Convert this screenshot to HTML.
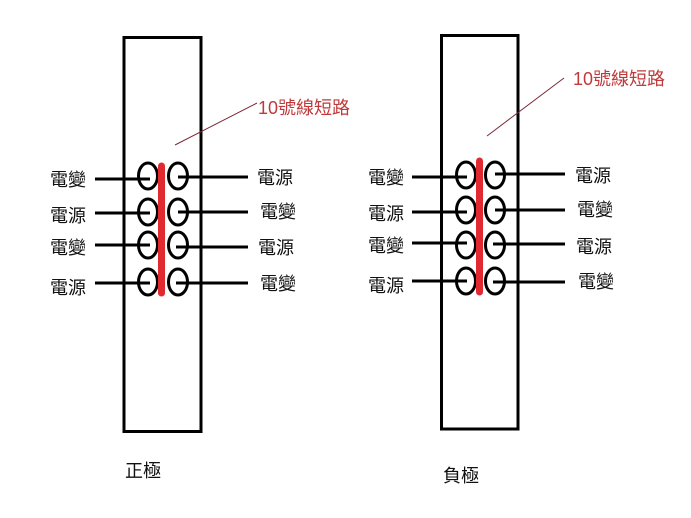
<!DOCTYPE html>
<html><head><meta charset="utf-8"><style>
html,body{margin:0;padding:0;background:#fff;}
svg{display:block;}
text{font-family:"Liberation Sans","Noto Sans CJK TC",sans-serif;font-size:18px;fill:#111;}
.r{fill:#c0393b;}
</style></head><body>
<svg width="691" height="518" viewBox="0 0 691 518" xmlns="http://www.w3.org/2000/svg">
<rect x="0" y="0" width="691" height="518" fill="#fff"/>
<!-- Left -->
<rect x="124" y="37.5" width="77" height="394" fill="none" stroke="#000" stroke-width="3"/>
<g stroke="#000" stroke-width="3" fill="none">
<line x1="95" y1="179" x2="150" y2="179"/>
<line x1="95" y1="213" x2="150" y2="213"/>
<line x1="95" y1="245" x2="150" y2="245"/>
<line x1="95" y1="283" x2="150" y2="283"/>
<line x1="178" y1="177" x2="248" y2="177"/>
<line x1="178" y1="212" x2="248" y2="212"/>
<line x1="176" y1="247" x2="248" y2="247"/>
<line x1="176" y1="283" x2="248" y2="283"/>
<ellipse cx="148" cy="176" rx="9.5" ry="13"/>
<ellipse cx="148" cy="212" rx="9.5" ry="13"/>
<ellipse cx="148" cy="245" rx="9.5" ry="13"/>
<ellipse cx="148" cy="282" rx="9.5" ry="13"/>
<ellipse cx="178" cy="176" rx="9.5" ry="13"/>
<ellipse cx="178" cy="212" rx="9.5" ry="13"/>
<ellipse cx="178" cy="245" rx="9.5" ry="13"/>
<ellipse cx="178" cy="282" rx="9.5" ry="13"/>
</g>
<line x1="161.5" y1="166" x2="161.5" y2="293" stroke="#e02a2f" stroke-width="7" stroke-linecap="round"/>
<line x1="175" y1="145" x2="257" y2="103" stroke="#7a2a3a" stroke-width="1"/>
<text class="r" x="258" y="114">10號線短路</text>
<text x="50" y="186">電變</text>
<text x="50" y="222">電源</text>
<text x="50" y="254">電變</text>
<text x="50" y="294">電源</text>
<text x="257" y="184">電源</text>
<text x="260" y="218">電變</text>
<text x="258" y="254">電源</text>
<text x="260" y="290">電變</text>
<text x="125" y="477">正極</text>
<!-- Right -->
<rect x="441.5" y="35.5" width="76.5" height="393.5" fill="none" stroke="#000" stroke-width="3"/>
<g stroke="#000" stroke-width="3" fill="none">
<line x1="412" y1="177" x2="467" y2="177"/>
<line x1="412" y1="212" x2="467" y2="212"/>
<line x1="412" y1="243" x2="467" y2="243"/>
<line x1="412" y1="281" x2="467" y2="281"/>
<line x1="495" y1="174" x2="565" y2="174"/>
<line x1="495" y1="210" x2="565" y2="210"/>
<line x1="493" y1="244" x2="565" y2="244"/>
<line x1="493" y1="282" x2="565" y2="282"/>
<ellipse cx="466" cy="175" rx="9.5" ry="13"/>
<ellipse cx="466" cy="210" rx="9.5" ry="13"/>
<ellipse cx="466" cy="245" rx="9.5" ry="13"/>
<ellipse cx="466" cy="281" rx="9.5" ry="13"/>
<ellipse cx="495" cy="175" rx="9.5" ry="13"/>
<ellipse cx="495" cy="210" rx="9.5" ry="13"/>
<ellipse cx="495" cy="245" rx="9.5" ry="13"/>
<ellipse cx="495" cy="281" rx="9.5" ry="13"/>
</g>
<line x1="479.5" y1="161" x2="479.5" y2="292" stroke="#e02a2f" stroke-width="7" stroke-linecap="round"/>
<line x1="487" y1="136" x2="564" y2="78" stroke="#7a2a3a" stroke-width="1"/>
<text class="r" x="573" y="85">10號線短路</text>
<text x="368" y="184">電變</text>
<text x="368" y="220">電源</text>
<text x="368" y="252">電變</text>
<text x="368" y="292">電源</text>
<text x="575" y="182">電源</text>
<text x="577" y="216">電變</text>
<text x="576" y="253">電源</text>
<text x="578" y="288">電變</text>
<text x="443" y="482">負極</text>
</svg>
</body></html>
